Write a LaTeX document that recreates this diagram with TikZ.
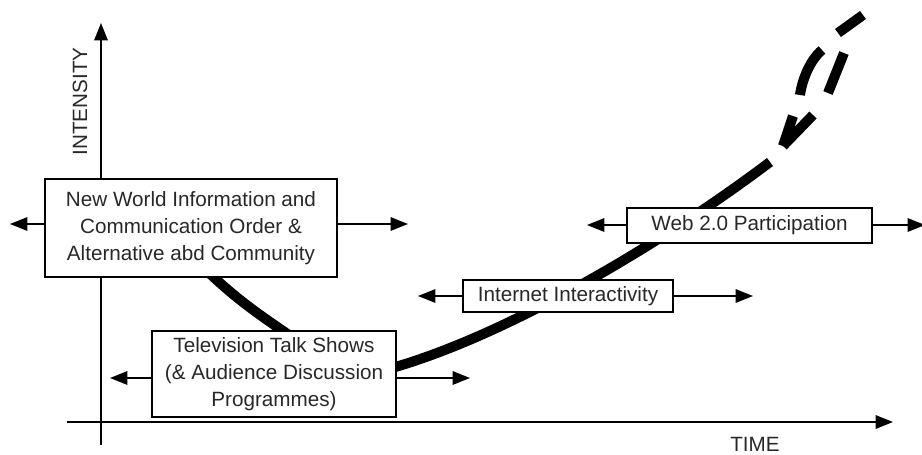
\documentclass[tikz,border=0pt]{standalone}
\usepackage{fontspec}
\setmainfont{Liberation Sans}
\usetikzlibrary{arrows.meta,calc,backgrounds}

\definecolor{labelgray}{RGB}{40,40,40}

\tikzset{every picture/.style={line width=1.5pt}}
\tikzset{
  box/.style={draw, fill=white, align=center, inner sep=0pt,
    font=\fontsize{15.5}{20}\selectfont, text=labelgray},
  axislabel/.style={font=\fontsize{15.5}{20}\selectfont, text=labelgray, inner sep=0pt},
  era/.style={-{Triangle[length=13pt,width=10pt]}},
  trend/.style={line width=7.5pt, line cap=butt},
}

\begin{document}
\begin{tikzpicture}[x=0.75pt,y=0.75pt,yscale=-1,xscale=1]
\useasboundingbox (0,0) rectangle (922,454);

% Axes
\coordinate (ybot) at (101,445);
\coordinate (ytop) at (101,23);
\coordinate (xleft) at (67,422);
\coordinate (xright) at (893,422);
\draw[era] (ybot) -- (ytop);
\draw[era] (xleft) -- (xright);

% Text Node
\node[axislabel, rotate=90] (intensity) at (80,101.5) {INTENSITY};
% Text Node
\node[axislabel] (time) at (755,444.5) {TIME};

% Boxes
\node[box, minimum width=219pt, minimum height=73.5pt] (nwico) at (191,228)
  {New World Information and\\Communication Order \&\\Alternative abd Community};
\node[box, minimum width=183pt, minimum height=64.5pt] (tv) at (274,374)
  {Television Talk Shows\\(\& Audience Discussion\\Programmes)};
\node[box, minimum width=157.5pt, minimum height=24pt] (inet) at (568,296)
  {Internet Interactivity};
\node[box, minimum width=184pt, minimum height=26pt] (web) at (749.5,225.5)
  {Web 2.0 Participation};

% Spread arrows
\coordinate (nwicoW) at (10,224);
\coordinate (nwicoE) at (408,224);
\coordinate (tvW) at (110,378);
\coordinate (tvE) at (470,378);
\coordinate (inetW) at (418,296);
\coordinate (inetE) at (753,296);
\coordinate (webW) at (587,225);
\coordinate (webE) at (925,225);
\draw[era] (nwicoW -| nwico.west) -- (nwicoW);
\draw[era] (nwicoE -| nwico.east) -- (nwicoE);
\draw[era] (tvW -| tv.west) -- (tvW);
\draw[era] (tvE -| tv.east) -- (tvE);
\draw[era] (inetW -| inet.west) -- (inetW);
\draw[era] (inetE -| inet.east) -- (inetE);
\draw[era] (webW -| web.west) -- (webW);
\draw[era] (webE -| web.east) -- (webE);

% Trend line
\begin{scope}[on background layer]
\draw[trend] ($(nwico.south)+(14,-9)$) .. controls (235,298) and (258,314) .. ($(tv.north)+(18,7)$);
\draw[trend] ($(tv.east)+(-16,-3)$) .. controls (500,340) and (660,245) .. (770,162);
\end{scope}
% dashed end
\draw[trend] (783,146) -- (793,116);
\draw[trend] (783,146) -- (813,115);
\draw[trend] (800,95) .. controls (802,80) and (810,60) .. (822,50);
\draw[trend] (828,93) -- (844,53);
\draw[trend] (838,33) -- (863,15);

\end{tikzpicture}
\end{document}
